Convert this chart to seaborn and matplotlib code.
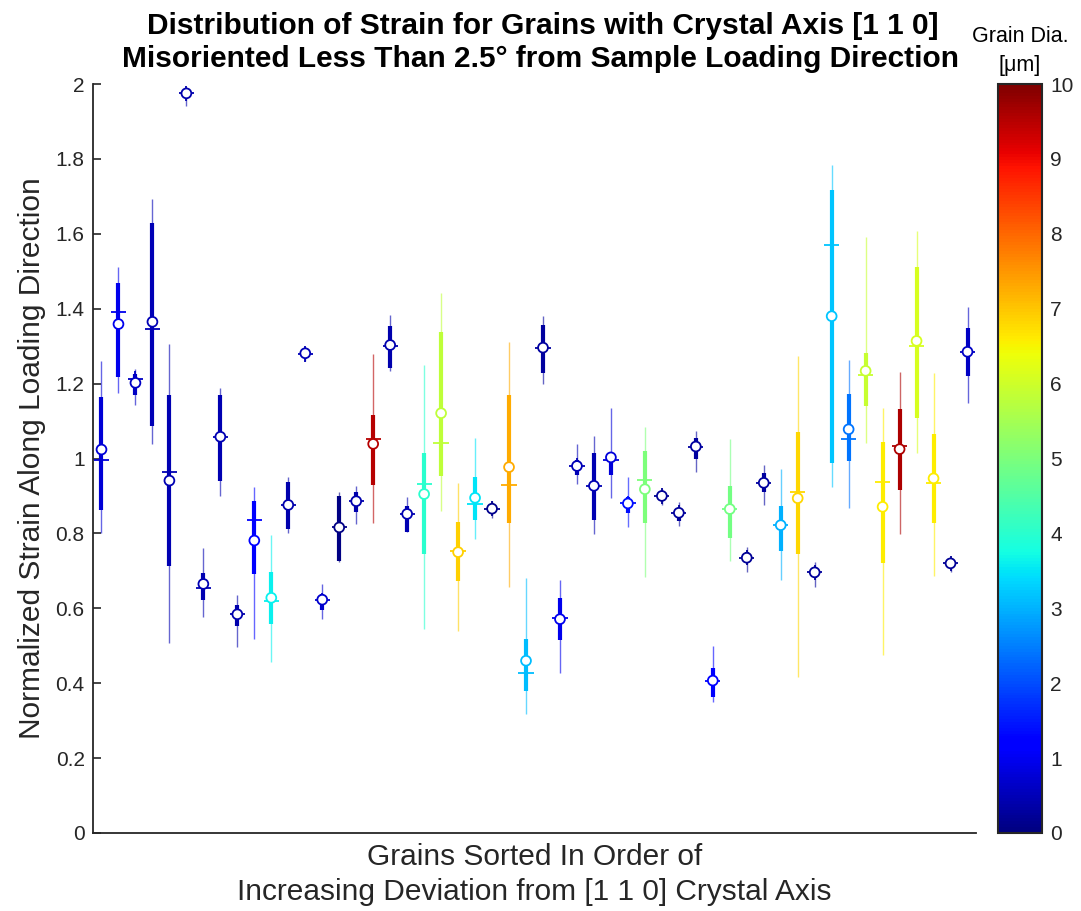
import numpy as np
import pandas as pd
import matplotlib
matplotlib.use("Agg")
import matplotlib.pyplot as plt
import seaborn as sns
from matplotlib import colors as mcolors
from matplotlib.cm import ScalarMappable

# Grains ordered by increasing deviation from the [1 1 0] axis
grain_rank = list(range(1, 53))

# Grain diameter [um]
grain_dia = [0.75, 0.95, 0.6, 0.5, 0.45, 0.4, 0.45, 0.45, 0.4, 1.2,
             3.6, 0.4, 0.5, 0.7, 0.05, 0.4, 9.5, 0.4, 0.45, 4.0,
             5.8, 6.9, 3.5, 0.15, 7.3, 3.1, 0.3, 0.95, 0.5, 0.45,
             0.8, 1.4, 5.0, 0.2, 0.25, 0.3, 1.1, 4.9, 0.2, 0.3,
             3.0, 6.8, 0.25, 3.2, 2.4, 5.9, 6.6, 9.6, 6.1, 6.6,
             0.2, 0.6]

# Normalized strain statistics per grain
strain_min = [0.800, 1.176, 1.142, 1.040, 0.508, 1.941, 0.576, 0.900, 0.497, 0.518,
              0.457, 0.800, 1.261, 0.571, 0.723, 0.824, 0.828, 1.234, 0.805, 0.544,
              0.860, 0.540, 0.784, 0.842, 0.658, 0.318, 1.199, 0.428, 0.931, 0.798,
              0.894, 0.818, 0.684, 0.876, 0.820, 0.965, 0.349, 0.725, 0.698, 0.876,
              0.676, 0.417, 0.656, 0.925, 0.869, 1.042, 0.475, 0.798, 1.014, 0.687,
              0.698, 1.147]
strain_q1 = [0.863, 1.218, 1.169, 1.087, 0.713, 1.965, 0.623, 0.940, 0.552, 0.691,
             0.557, 0.812, 1.270, 0.596, 0.726, 0.858, 0.929, 1.242, 0.805, 0.744,
             0.953, 0.673, 0.835, 0.855, 0.829, 0.380, 1.227, 0.515, 0.956, 0.836,
             0.956, 0.854, 0.827, 0.890, 0.833, 1.000, 0.362, 0.787, 0.720, 0.911,
             0.754, 0.745, 0.680, 0.987, 0.994, 1.141, 0.720, 0.916, 1.107, 0.829,
             0.710, 1.220]
strain_median = [1.024, 1.359, 1.202, 1.365, 0.941, 1.975, 0.665, 1.058, 0.584, 0.781,
                 0.628, 0.876, 1.281, 0.623, 0.816, 0.886, 1.039, 1.303, 0.852, 0.905,
                 1.121, 0.750, 0.895, 0.866, 0.977, 0.460, 1.296, 0.571, 0.980, 0.927,
                 1.003, 0.880, 0.918, 0.900, 0.855, 1.032, 0.407, 0.865, 0.735, 0.935,
                 0.822, 0.894, 0.696, 1.380, 1.078, 1.234, 0.871, 1.025, 1.314, 0.947,
                 0.720, 1.285]
strain_mean = [0.995, 1.392, 1.213, 1.345, 0.965, 1.975, 0.655, 1.058, 0.586, 0.835,
               0.620, 0.876, 1.279, 0.621, 0.816, 0.886, 1.053, 1.300, 0.852, 0.932,
               1.042, 0.754, 0.879, 0.866, 0.929, 0.428, 1.296, 0.573, 0.980, 0.927,
               0.996, 0.880, 0.943, 0.900, 0.855, 1.032, 0.405, 0.865, 0.735, 0.935,
               0.822, 0.911, 0.696, 1.570, 1.051, 1.223, 0.937, 1.034, 1.300, 0.934,
               0.720, 1.285]
strain_q3 = [1.163, 1.468, 1.226, 1.629, 1.169, 1.985, 0.694, 1.169, 0.610, 0.886,
             0.698, 0.936, 1.290, 0.639, 0.900, 0.910, 1.116, 1.355, 0.874, 1.016,
             1.337, 0.831, 0.950, 0.878, 1.169, 0.518, 1.356, 0.627, 0.996, 1.014,
             1.014, 0.898, 1.021, 0.910, 0.867, 1.054, 0.440, 0.927, 0.749, 0.960,
             0.873, 1.072, 0.711, 1.717, 1.172, 1.283, 1.045, 1.131, 1.512, 1.065,
             0.728, 1.349]
strain_max = [1.260, 1.511, 1.239, 1.693, 1.306, 1.990, 0.761, 1.189, 0.636, 0.923,
              0.797, 0.950, 1.297, 0.666, 0.910, 0.926, 1.279, 1.383, 0.898, 1.250,
              1.443, 0.934, 1.055, 0.886, 1.311, 0.680, 1.380, 0.676, 1.039, 1.060,
              1.136, 0.950, 1.085, 0.918, 0.885, 1.074, 0.499, 1.051, 0.763, 0.983,
              0.971, 1.274, 0.723, 1.784, 1.263, 1.591, 1.134, 1.231, 1.608, 1.227,
              0.731, 1.405]

y_ticks = [0, 0.2, 0.4, 0.6, 0.8, 1.0, 1.2, 1.4, 1.6, 1.8, 2.0]
cbar_ticks = list(range(0, 11))

df = pd.DataFrame({
    "rank": grain_rank, "dia": grain_dia,
    "smin": strain_min, "q1": strain_q1, "median": strain_median,
    "mean": strain_mean, "q3": strain_q3, "smax": strain_max,
})

sns.set_theme(style="white")
plt.rcParams["font.family"] = ["Liberation Sans", "DejaVu Sans"]
ink = "#262626"

W, H = 1081, 911
fig = plt.figure(figsize=(W / 100, H / 100), dpi=100)
ax = fig.add_axes([93 / W, 1 - 833 / H, (976 - 93) / W, (833 - 84) / H])
cax = fig.add_axes([998 / W, 1 - 833 / H, 44 / W, (833 - 84) / H])

cmap = matplotlib.colormaps["jet"]
norm = mcolors.Normalize(vmin=0, vmax=10)
grain_colors = cmap(norm(df["dia"].to_numpy()))

# whiskers (full range) and interquartile bars
ax.vlines(df["rank"], df["smin"], df["smax"], colors=grain_colors,
          linewidth=1.0, alpha=0.6, zorder=1)
ax.vlines(df["rank"], df["q1"], df["q3"], colors=grain_colors,
          linewidth=3.0, zorder=2)

# mean as a cross, median as an open circle
sns.scatterplot(data=df, x="rank", y="mean", hue="dia", palette=cmap,
                hue_norm=norm, marker="+", s=120, linewidth=1.3,
                legend=False, ax=ax, zorder=3)
sns.scatterplot(data=df, x="rank", y="median", hue="dia", palette=cmap,
                hue_norm=norm, marker="o", s=50, linewidth=1.3,
                legend=False, ax=ax, zorder=4)
med = ax.collections[-1]
med.set_edgecolors(med.get_facecolors())
med.set_facecolor("white")

ax.set_xlim(0.5, 52.5)
ax.set_ylim(0, 2)
ax.set_xticks([])
ax.set_yticks(y_ticks)
ax.set_yticklabels([f"{t:g}" for t in y_ticks])
ax.tick_params(axis="y", left=True, direction="in", length=6, width=1.2,
               colors=ink, labelsize=15, pad=6)
for side in ("top", "right"):
    ax.spines[side].set_visible(False)
for side in ("left", "bottom"):
    ax.spines[side].set_color(ink)
    ax.spines[side].set_linewidth(1.3)

ax.set_ylabel("Normalized Strain Along Loading Direction", fontsize=21.5,
              color=ink, labelpad=7)
ax.set_xlabel("Grains Sorted In Order of\nIncreasing Deviation from [1 1 0] Crystal Axis",
              fontsize=21.5, color=ink, labelpad=7, linespacing=1.32)

fig.text(0.5025, 1 - 26 / H,
         "Distribution of Strain for Grains with Crystal Axis [1 1 0]",
         ha="center", va="center", fontsize=21.5, fontweight="bold", color="black")
fig.text(0.5000, 1 - 59 / H,
         "Misoriented Less Than 2.5\u00b0 from Sample Loading Direction",
         ha="center", va="center", fontsize=21.5, fontweight="bold", color="black")

cb = fig.colorbar(ScalarMappable(norm=norm, cmap=cmap), cax=cax, ticks=cbar_ticks)
cax.tick_params(direction="in", length=5, width=1.2, colors=ink, labelsize=15,
                right=True, pad=6)
cb.outline.set_edgecolor(ink)
cb.outline.set_linewidth(1.5)
cax.set_title("Grain Dia.\n[\u03bcm]", fontsize=15.5, color="black",
              linespacing=1.55, pad=9)

fig.savefig("out.png", dpi=100)
